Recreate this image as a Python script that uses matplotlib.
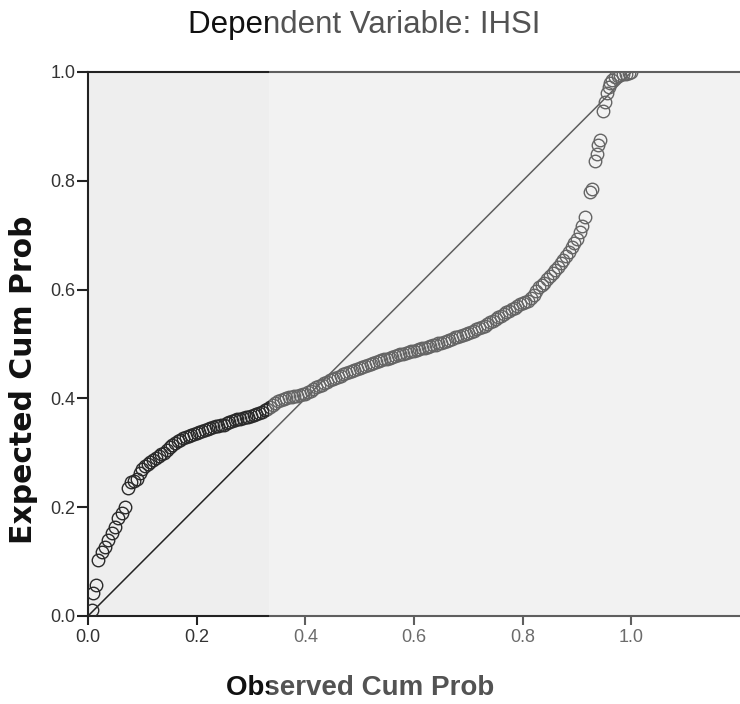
import matplotlib
matplotlib.use("Agg")
import matplotlib.pyplot as plt
from matplotlib.patches import Rectangle

# observed / expected cumulative probabilities
obs_cum = [0.007, 0.010, 0.015, 0.019, 0.025, 0.031, 0.037, 0.044, 0.050, 0.056,
           0.062, 0.068, 0.074,
           0.08, 0.09, 0.10, 0.11, 0.12, 0.13, 0.14, 0.15, 0.16, 0.17, 0.18, 0.19,
           0.20, 0.21, 0.22, 0.23, 0.24, 0.25, 0.26, 0.27, 0.28, 0.29, 0.30, 0.31,
           0.32, 0.33, 0.34, 0.35, 0.36, 0.37, 0.38, 0.39, 0.40, 0.41, 0.42, 0.43,
           0.44, 0.45, 0.46, 0.47, 0.48, 0.49, 0.50, 0.51, 0.52, 0.53, 0.54, 0.55,
           0.56, 0.57, 0.58, 0.59, 0.60, 0.61, 0.62, 0.63, 0.64, 0.65, 0.66, 0.67,
           0.68, 0.69, 0.70, 0.71, 0.72, 0.73, 0.74, 0.75, 0.76, 0.77, 0.78, 0.79,
           0.80, 0.81, 0.82, 0.83, 0.84, 0.85, 0.86, 0.87, 0.88, 0.89, 0.90, 0.905,
           0.91, 0.915, 0.924, 0.927, 0.933, 0.936, 0.938, 0.942, 0.948, 0.952,
           0.955, 0.958, 0.960, 0.965, 0.970, 0.975, 0.980, 0.985, 0.990, 0.995, 1.000]
exp_cum = [0.011, 0.042, 0.057, 0.103, 0.118, 0.127, 0.140, 0.153, 0.164, 0.180,
           0.189, 0.201, 0.235,
           0.247, 0.252, 0.270, 0.279, 0.287, 0.295, 0.300, 0.310, 0.318, 0.324, 0.329, 0.333,
           0.337, 0.340, 0.344, 0.347, 0.350, 0.352, 0.356, 0.360, 0.363, 0.365, 0.367, 0.371,
           0.375, 0.381, 0.388, 0.395, 0.399, 0.402, 0.404, 0.406, 0.409, 0.414, 0.421, 0.425,
           0.430, 0.436, 0.440, 0.444, 0.448, 0.452, 0.455, 0.459, 0.463, 0.467, 0.470, 0.473,
           0.476, 0.479, 0.482, 0.485, 0.488, 0.490, 0.493, 0.496, 0.499, 0.502, 0.506, 0.510,
           0.513, 0.517, 0.520, 0.524, 0.529, 0.534, 0.540, 0.546, 0.552, 0.558, 0.564, 0.570,
           0.575, 0.579, 0.590, 0.605, 0.613, 0.625, 0.636, 0.648, 0.662, 0.678, 0.693, 0.705,
           0.717, 0.733, 0.780, 0.785, 0.836, 0.850, 0.866, 0.875, 0.928, 0.945,
           0.962, 0.972, 0.980, 0.986, 0.990, 0.993, 0.995, 0.996, 0.997, 0.998, 1.000]

# the dense middle band has more cases in between
obs_cum_mid = [0.085, 0.095, 0.105, 0.115, 0.125, 0.135, 0.145, 0.155, 0.165, 0.175,
               0.185, 0.195, 0.205, 0.215, 0.225, 0.235, 0.245, 0.255, 0.265, 0.275,
               0.285, 0.295, 0.305, 0.315, 0.325, 0.335, 0.345, 0.355, 0.365, 0.375,
               0.385, 0.395, 0.405, 0.415, 0.425, 0.435, 0.445, 0.455, 0.465, 0.475,
               0.485, 0.495, 0.505, 0.515, 0.525, 0.535, 0.545, 0.555, 0.565, 0.575,
               0.585, 0.595, 0.605, 0.615, 0.625, 0.635, 0.645, 0.655, 0.665, 0.675,
               0.685, 0.695, 0.705, 0.715, 0.725, 0.735, 0.745, 0.755, 0.765, 0.775,
               0.785, 0.795, 0.805, 0.815, 0.825, 0.835, 0.845, 0.855, 0.865, 0.875,
               0.885, 0.895]
exp_cum_mid = [0.249, 0.262, 0.275, 0.283, 0.291, 0.298, 0.305, 0.314, 0.321, 0.327,
               0.331, 0.335, 0.338, 0.342, 0.346, 0.349, 0.351, 0.354, 0.358, 0.362,
               0.364, 0.366, 0.369, 0.373, 0.378, 0.384, 0.392, 0.397, 0.400, 0.403,
               0.405, 0.408, 0.411, 0.418, 0.423, 0.428, 0.433, 0.438, 0.442, 0.446,
               0.450, 0.454, 0.457, 0.461, 0.465, 0.469, 0.472, 0.475, 0.478, 0.481,
               0.484, 0.487, 0.489, 0.492, 0.495, 0.498, 0.501, 0.504, 0.508, 0.512,
               0.515, 0.519, 0.522, 0.527, 0.532, 0.537, 0.543, 0.549, 0.555, 0.561,
               0.567, 0.573, 0.577, 0.584, 0.598, 0.609, 0.619, 0.630, 0.642, 0.655,
               0.670, 0.686]

ticks = [0.0, 0.2, 0.4, 0.6, 0.8, 1.0]
tick_labels = ["0.0", "0.2", "0.4", "0.6", "0.8", "1.0"]

W, H = 740, 704
fig = plt.figure(figsize=(W / 100, H / 100), dpi=100)
fig.patch.set_facecolor("white")

ax = fig.add_axes([88 / W, (H - 616) / H, (W - 88) / W, (616 - 72) / H])
ax.set_facecolor("#eeeeee")

# reference line
ax.plot([0, 1], [0, 1], color="#222222", lw=1.1, zorder=2)
for xs, ys in [(obs_cum, exp_cum), (obs_cum_mid, exp_cum_mid)]:
    ax.plot(xs, ys, linestyle="none", marker="o", ms=9, mfc="none",
            mec="#2a2a2a", mew=1.0, zorder=3)

ax.set_xlim(0, 1.2)
ax.set_ylim(0, 1.0)
ax.set_xticks(ticks)
ax.set_xticklabels(tick_labels)
ax.set_yticks(ticks)
ax.set_yticklabels(tick_labels)

for s in ["left", "top", "bottom"]:
    ax.spines[s].set_linewidth(1.5)
    ax.spines[s].set_color("#222222")
ax.spines["right"].set_visible(False)

ax.tick_params(axis="x", direction="out", length=6.5, width=1.5, color="#222222",
               labelsize=13, labelcolor="#333333", pad=3)
ax.tick_params(axis="y", direction="out", length=8, width=1.5, color="#222222",
               labelsize=13, labelcolor="#333333", pad=1)
for lab in ax.get_xticklabels() + ax.get_yticklabels():
    lab.set_family("Liberation Sans")

fig.text(364 / W, 1 - 25 / H, "Dependent Variable: IHSI", ha="center", va="center",
         fontsize=22.5, family="Liberation Sans", color="#111111")
fig.text(360 / W, 1 - 688 / H, "Observed Cum Prob", ha="center", va="center",
         fontsize=20, family="Liberation Sans", fontweight="bold", color="#111111")
fig.text(24 / W, 1 - 380 / H, "Expected Cum Prob", ha="center", va="center",
         rotation=90, fontsize=21.5, family="DejaVu Sans", fontweight="bold",
         color="#111111")

# faint watermark lightening the right part of the picture
fig.add_artist(Rectangle((269 / W, 0), 1, 1, transform=fig.transFigure,
                         facecolor="white", edgecolor="none", alpha=0.28, zorder=100))

fig.savefig("out.png", dpi=100)
